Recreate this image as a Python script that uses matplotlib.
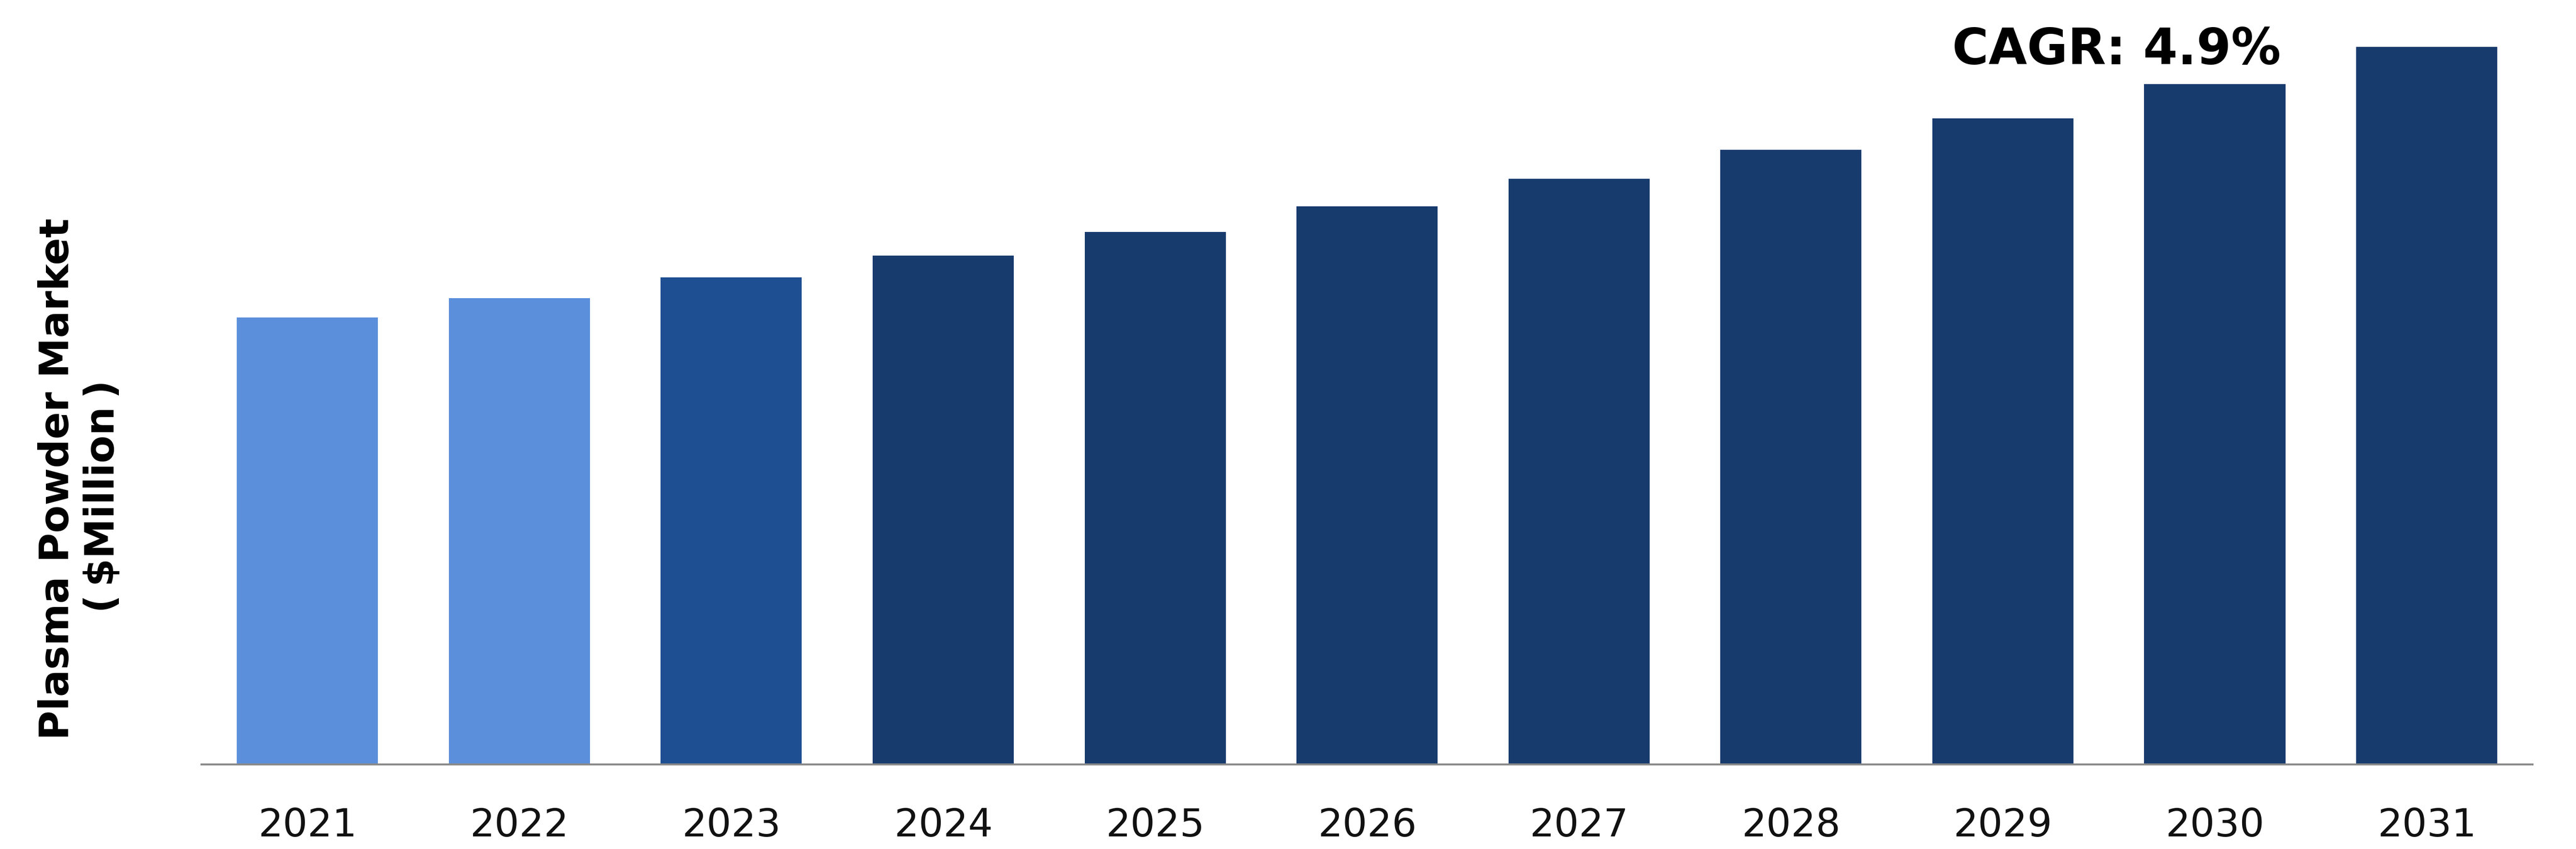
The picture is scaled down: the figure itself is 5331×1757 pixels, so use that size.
import matplotlib
matplotlib.use('Agg')
import matplotlib.pyplot as plt

years = ['2021', '2022', '2023', '2024', '2025', '2026', '2027', '2028', '2029', '2030', '2031']
market = [92.5, 96.5, 100.8, 105.3, 110.2, 115.5, 121.2, 127.2, 133.7, 140.8, 148.5]
bar_colors = ['#5b8fdb', '#5b8fdb', '#1f4f93'] + ['#183b6e'] * 8
cagr_label = 'CAGR: 4.9%'

fig = plt.figure(figsize=(53.31, 17.57), dpi=100, facecolor='w')
ax = fig.add_axes([0.0782, 0.0996, 0.905, 0.9004])

x = range(len(years))
ax.bar(x, market, width=0.666, color=bar_colors)
ax.set_xlim(-0.5, len(years) - 0.5)
ax.set_ylim(0, 158.2)

ax.set_xticks(list(x))
ax.set_xticklabels(years, fontsize=58, color='#111111')
ax.tick_params(axis='x', length=0, pad=63)
ax.set_yticks([])
for side in ['left', 'right', 'top']:
    ax.spines[side].set_visible(False)
ax.spines['bottom'].set_color('#8a8a8a')
ax.spines['bottom'].set_linewidth(3)

# CAGR note above the last bars
ax.text(7.76, 144.9, cagr_label, fontsize=74, fontweight='bold', ha='left', va='baseline')

# y label, two lines
fig.text(0.0223, 0.436, 'Plasma Powder Market', rotation=90,
         ha='center', va='center', fontsize=60, fontweight='bold')
fig.text(0.0398, 0.4155, '(\u2009$Million\u2009)', rotation=90,
         ha='center', va='center', fontsize=60, fontweight='bold')

fig.savefig('out.png', dpi=100, facecolor='w')
